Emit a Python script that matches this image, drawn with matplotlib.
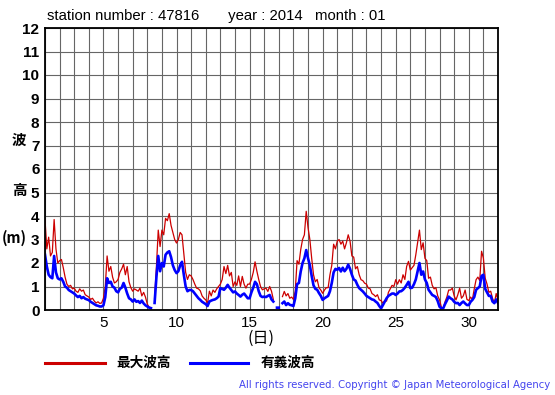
import numpy as np
import matplotlib
matplotlib.use("Agg")
import matplotlib.pyplot as plt
from matplotlib.lines import Line2D

nan = np.nan

# 3-hourly readings, 8 per day, from Jan 1 00h to Feb 1 00h (day 1.0 .. 32.0)
max_wave = [
    3.85, 2.6, 3.1, 2.3, 2.45, 3.85, 2.6, 2.0,      # 1
    2.1, 2.15, 1.8, 1.4, 1.1, 1.0, 1.05, 0.9,       # 2
    0.93, 0.8, 0.75, 0.9, 0.8, 0.85, 0.65, 0.6,     # 3
    0.55, 0.45, 0.5, 0.38, 0.3, 0.35, 0.28, 0.3,    # 4
    0.5, 1.0, 2.3, 1.65, 1.85, 1.4, 1.15, 1.2,      # 5
    1.3, 1.6, 1.75, 1.95, 1.5, 1.85, 1.2, 0.95,     # 6
    0.8, 0.9, 0.85, 0.8, 0.93, 0.6, 0.75, 0.55,     # 7
    0.25, 0.12, 0.1, nan, 0.5, 1.85, 3.4, 2.7,      # 8
    3.4, 3.2, 3.9, 3.8, 4.1, 3.6, 3.3, 3.0,         # 9
    2.85, 3.0, 3.3, 3.2, 2.4, 1.6, 1.3, 1.5,        # 10
    1.45, 1.3, 1.1, 0.93, 0.9, 0.82, 0.6, 0.5,      # 11
    0.43, 0.29, 0.8, 0.6, 0.85, 0.75, 0.9, 1.0,     # 12
    1.1, 1.3, 1.85, 1.55, 1.9, 1.45, 1.6, 1.0,      # 13
    1.2, 1.05, 1.45, 1.0, 1.43, 1.1, 0.93, 1.1,     # 14
    1.1, 1.3, 1.6, 2.05, 1.65, 1.3, 1.0, 0.86,      # 15
    0.9, 0.93, 0.79, 1.0, 0.8, 0.45, nan, 0.08,     # 16
    0.08, nan, 0.57, 0.79, 0.6, 0.7, 0.5, 0.55,     # 17
    0.45, 0.8, 2.1, 1.95, 2.57, 3.0, 3.2, 4.2,      # 18
    3.5, 3.0, 2.2, 1.5, 1.2, 1.3, 0.95, 0.85,       # 19
    0.71, 0.85, 0.95, 0.95, 1.5, 1.9, 2.8, 2.6,     # 20
    2.93, 3.0, 2.8, 2.93, 2.6, 2.86, 3.2, 2.93,     # 21
    2.3, 2.25, 1.75, 1.85, 1.5, 1.29, 1.25, 1.14,   # 22
    1.1, 0.93, 0.9, 0.7, 0.65, 0.57, 0.65, 0.43,    # 23
    0.4, 0.29, 0.4, 0.38, 0.75, 0.9, 1.05, 1.0,     # 24
    1.29, 1.1, 1.29, 1.15, 1.5, 1.3, 1.86, 2.07,    # 25
    1.7, 1.8, 1.9, 2.35, 2.86, 3.4, 2.57, 2.86,     # 26
    2.2, 2.1, 1.35, 1.4, 1.05, 0.9, 0.95, 0.6,      # 27
    0.43, 0.12, 0.07, 0.35, 0.55, 0.85, 0.85, 0.93, # 28
    0.6, 0.43, 0.65, 0.93, 0.5, 0.6, 0.85, 0.45,    # 29
    0.4, 0.55, 0.45, 0.9, 1.29, 1.4, 1.25, 2.5,     # 30
    2.21, 1.35, 1.1, 0.75, 0.8, 0.5, 0.29, 0.7,     # 31
    0.43,
]

sig_wave = [
    2.35, 1.85, 1.5, 1.4, 1.35, 2.3, 1.6, 1.35,     # 1
    1.3, 1.35, 1.2, 1.0, 0.95, 0.85, 0.8, 0.75,     # 2
    0.7, 0.62, 0.55, 0.6, 0.5, 0.55, 0.48, 0.45,    # 3
    0.42, 0.35, 0.3, 0.25, 0.2, 0.18, 0.15, 0.15,   # 4
    0.2, 0.55, 1.35, 1.15, 1.2, 1.0, 0.95, 0.8,     # 5
    0.75, 0.9, 0.95, 1.15, 0.95, 0.7, 0.5, 0.45,    # 6
    0.36, 0.45, 0.35, 0.38, 0.3, 0.4, 0.28, 0.2,    # 7
    0.15, 0.1, 0.08, nan, 0.3, 1.4, 2.3, 1.65,      # 8
    2.0, 1.85, 2.35, 2.45, 2.5, 2.25, 1.9, 1.7,     # 9
    1.57, 1.65, 1.9, 2.05, 1.5, 1.0, 0.8, 0.85,     # 10
    0.85, 0.8, 0.7, 0.6, 0.5, 0.43, 0.35, 0.3,      # 11
    0.25, 0.17, 0.36, 0.4, 0.43, 0.45, 0.5, 0.57,   # 12
    0.93, 0.9, 0.86, 0.95, 1.07, 0.95, 0.85, 0.75,  # 13
    0.79, 0.7, 0.64, 0.57, 0.65, 0.7, 0.6, 0.5,     # 14
    0.5, 0.75, 0.95, 1.2, 1.1, 0.8, 0.6, 0.55,      # 15
    0.57, 0.55, 0.6, 0.64, 0.45, 0.36, nan, 0.1,    # 16
    0.1, nan, 0.29, 0.36, 0.21, 0.29, 0.22, 0.2,    # 17
    0.17, 0.5, 1.1, 1.15, 1.64, 2.0, 2.2, 2.55,     # 18
    2.2, 1.9, 1.45, 1.05, 0.9, 0.86, 0.72, 0.6,     # 19
    0.43, 0.5, 0.55, 0.6, 0.8, 1.15, 1.6, 1.75,     # 20
    1.71, 1.79, 1.64, 1.8, 1.65, 1.75, 1.93, 1.75,  # 21
    1.5, 1.3, 1.25, 1.07, 0.93, 0.86, 0.79, 0.7,    # 22
    0.6, 0.55, 0.5, 0.45, 0.43, 0.36, 0.3, 0.17,    # 23
    0.07, 0.21, 0.36, 0.5, 0.6, 0.65, 0.7, 0.7,     # 24
    0.64, 0.7, 0.79, 0.8, 0.86, 0.95, 1.07, 1.2,    # 25
    0.93, 0.95, 1.1, 1.3, 1.65, 2.0, 1.5, 1.64,     # 26
    1.3, 1.15, 0.86, 0.75, 0.64, 0.6, 0.55, 0.38,   # 27
    0.14, 0.07, 0.07, 0.25, 0.4, 0.57, 0.5, 0.45,   # 28
    0.35, 0.29, 0.3, 0.21, 0.3, 0.36, 0.28, 0.21,   # 29
    0.21, 0.35, 0.43, 0.55, 0.86, 0.93, 1.0, 1.45,  # 30
    1.5, 0.9, 0.75, 0.6, 0.6, 0.36, 0.29, 0.45,     # 31
    0.3,
]

xticks = [5, 10, 15, 20, 25, 30]
yticks = list(range(0, 13))

days = 1 + np.arange(len(max_wave)) / 8.0

W, H = 555, 395
fig = plt.figure(figsize=(W / 100, H / 100), dpi=100)
ax = fig.add_axes([45 / W, 1 - 310 / H, 453 / W, 282 / H])

ax.plot(days, max_wave, color="#cc0000", lw=0.9)
ax.plot(days, sig_wave, color="#0000ff", lw=1.9)

ax.set_xlim(1, 32)
ax.set_ylim(0, 12)
ax.set_xticks(np.arange(1, 33), minor=True)
ax.set_xticks(xticks)
ax.set_yticks(yticks)
ax.grid(True, which="both", axis="x", color="#666666", lw=0.8)
ax.grid(True, axis="y", color="#666666", lw=0.8)
ax.tick_params(length=0, pad=4)
ax.tick_params(which="minor", length=0)
for s in ax.spines.values():
    s.set_linewidth(1.3)
for lab in ax.get_yticklabels():
    lab.set_fontweight("bold")
    lab.set_fontsize(11)
    lab.set_family("Liberation Sans")
for lab in ax.get_xticklabels():
    lab.set_fontsize(11)
    lab.set_family("Liberation Sans")

cjk = ["Noto Sans CJK JP", "DejaVu Sans"]
fig.text(19 / W, 1 - 140 / H, "波", family=cjk, weight="bold", fontsize=10.5, ha="center", va="center")
fig.text(19 / W, 1 - 190 / H, "高", family=cjk, weight="bold", fontsize=10.5, ha="center", va="center")
fig.text(14 / W, 1 - 238 / H, "(m)", family=cjk, weight="bold", fontsize=10.5, ha="center", va="center")
fig.text(261 / W, 1 - 338 / H, "(日)", family=cjk, fontsize=11.5, ha="center", va="center")

fig.text(47 / W, 1 - 16 / H,
         "station number : 47816       year : 2014   month : 01",
         family="Liberation Sans", fontsize=10.7, ha="left", va="center")

# legend drawn by hand below the axes
fig.add_artist(Line2D([45 / W, 105 / W], [1 - 363 / H] * 2, color="#cc0000", lw=2.2))
fig.text(116 / W, 1 - 363 / H, "最大波高", family=cjk, weight="bold", fontsize=9.8, va="center")
fig.add_artist(Line2D([190 / W, 248 / W], [1 - 363 / H] * 2, color="#0000ff", lw=2.2))
fig.text(261 / W, 1 - 363 / H, "有義波高", family=cjk, weight="bold", fontsize=9.8, va="center")

fig.text(550 / W, 1 - 385 / H,
         "All rights reserved. Copyright \u00a9 Japan Meteorological Agency",
         family="DejaVu Sans", fontsize=7.3, color="#4444ee", ha="right", va="center")

fig.savefig("out.png", dpi=100)
